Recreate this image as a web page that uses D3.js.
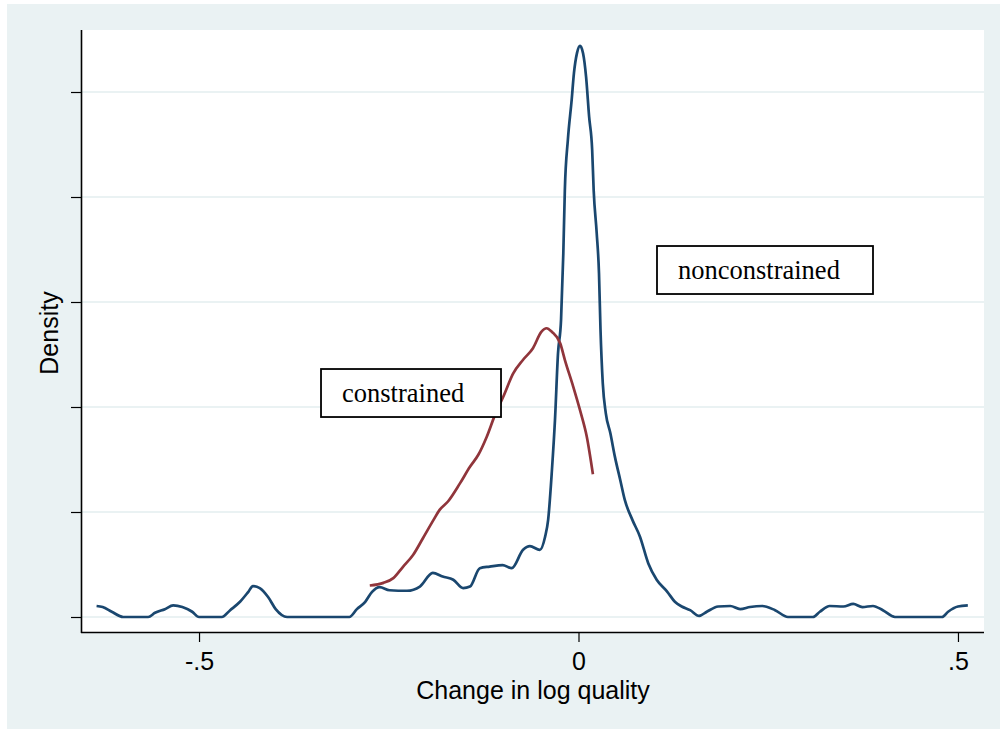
<!DOCTYPE html>
<html>
<head>
<meta charset="utf-8">
<script src="https://cdn.jsdelivr.net/npm/d3@7"></script>
<style>
html,body{margin:0;padding:0;background:#fff;}
svg{display:block;}
</style>
</head>
<body>
<svg id="chart" width="1000" height="729"></svg>
<script>
// ---- data ----
const xTicks = [-0.5, 0, 0.5];
const xTickLabels = ["-.5", "0", ".5"];
const yTicks = [0, 2, 4, 6, 8, 10];

const nonconstrainedX = [-0.635,-0.627,-0.615,-0.600,-0.567,-0.558,-0.545,-0.534,-0.522,-0.509,-0.500,-0.470,-0.459,-0.446,-0.435,-0.429,-0.420,-0.409,-0.399,-0.384,-0.302,-0.292,-0.281,-0.272,-0.262,-0.249,-0.226,-0.209,-0.192,-0.179,-0.165,-0.152,-0.143,-0.130,-0.117,-0.100,-0.088,-0.073,-0.064,-0.051,-0.044,-0.040,-0.035,-0.031,-0.027,-0.023,-0.020,-0.018,-0.014,-0.009,-0.006,-0.002,0.002,0.006,0.010,0.014,0.018,0.020,0.024,0.027,0.029,0.032,0.036,0.042,0.048,0.055,0.061,0.071,0.081,0.092,0.103,0.117,0.127,0.136,0.147,0.159,0.169,0.184,0.200,0.213,0.226,0.242,0.259,0.276,0.309,0.318,0.331,0.349,0.362,0.374,0.388,0.401,0.417,0.479,0.487,0.500,0.513];
const nonconstrainedY = [0.21,0.19,0.10,0,0,0.08,0.15,0.22,0.19,0.10,0,0,0.13,0.29,0.48,0.59,0.55,0.38,0.15,0,0,0.15,0.29,0.48,0.57,0.51,0.50,0.58,0.84,0.77,0.71,0.55,0.58,0.93,0.96,0.99,0.93,1.28,1.35,1.28,1.53,1.85,2.80,3.75,5.02,5.66,6.93,8.13,9.09,9.85,10.36,10.74,10.88,10.74,10.29,9.53,8.90,8.13,7.31,6.55,5.47,4.45,3.88,3.50,3.05,2.61,2.23,1.85,1.53,1.02,0.71,0.48,0.29,0.20,0.13,0.02,0.10,0.20,0.21,0.15,0.19,0.21,0.13,0,0,0.10,0.21,0.20,0.25,0.19,0.21,0.13,0,0,0.10,0.20,0.22];

const constrainedX = [-0.275,-0.257,-0.244,-0.231,-0.218,-0.205,-0.191,-0.183,-0.172,-0.156,-0.143,-0.132,-0.121,-0.110,-0.099,-0.086,-0.073,-0.060,-0.049,-0.042,-0.035,-0.024,-0.018,-0.007,0.002,0.011,0.019];
const constrainedY = [0.60,0.65,0.74,0.96,1.18,1.50,1.85,2.04,2.20,2.55,2.86,3.09,3.43,3.85,4.20,4.64,4.90,5.12,5.43,5.50,5.43,5.21,4.90,4.39,3.94,3.43,2.72];

const labelNames = ["constrained", "nonconstrained"];
const labelX = [-0.3116, 0.1311];
const labelY = [4.095, 6.438];

// ---- layout ----
const svg = d3.select("#chart");
const W = 1000, H = 729;
const plotL = 82, plotR = 984, plotT = 30, plotB = 632;

svg.append("rect").attr("x", 7).attr("y", 4).attr("width", W - 7).attr("height", H - 4).attr("fill", "#eaf2f3");
svg.append("rect").attr("x", plotL).attr("y", plotT).attr("width", plotR - plotL).attr("height", plotB - plotT).attr("fill", "#ffffff");

const x = d3.scaleLinear().domain([-0.6542, 0.5343]).range([plotL, plotR]);
const y = d3.scaleLinear().domain([-0.2857, 11.181]).range([plotB, plotT]);

// gridlines
svg.append("g").selectAll("line").data(yTicks).join("line")
  .attr("x1", plotL).attr("x2", plotR)
  .attr("y1", d => y(d)).attr("y2", d => y(d))
  .attr("stroke", "#eaf2f3").attr("stroke-width", 2);

// lines
const nonData = nonconstrainedX.map((v, i) => [v, nonconstrainedY[i]]);
const conData = constrainedX.map((v, i) => [v, constrainedY[i]]);
const line = d3.line().x(d => x(d[0])).y(d => y(d[1])).curve(d3.curveMonotoneX);

svg.append("path").datum(nonData).attr("d", line)
  .attr("fill", "none").attr("stroke", "#1a476f").attr("stroke-width", 2.7).attr("stroke-linejoin", "round");
svg.append("path").datum(conData).attr("d", line)
  .attr("fill", "none").attr("stroke", "#90353b").attr("stroke-width", 2.7).attr("stroke-linejoin", "round");

// axes
const yAxis = d3.axisLeft(y).tickValues(yTicks).tickFormat("").tickSize(10).tickSizeOuter(0);
const gy = svg.append("g").attr("transform", `translate(${plotL - 1},0)`).call(yAxis);
gy.select(".domain").attr("d", `M0.5,${plotT}V${plotB + 1}`).attr("stroke", "#000").attr("stroke-width", 1.6);
gy.selectAll(".tick line").attr("stroke", "#000").attr("stroke-width", 1.2);

const xAxis = d3.axisBottom(x).tickValues(xTicks).tickFormat((d, i) => xTickLabels[i]).tickSize(10).tickSizeOuter(0);
const gx = svg.append("g").attr("transform", `translate(0,${plotB})`).call(xAxis);
gx.select(".domain").attr("d", `M${plotL - 1},0.5H${plotR}`).attr("stroke", "#000").attr("stroke-width", 1.6);
gx.selectAll(".tick line").attr("stroke", "#000").attr("stroke-width", 1.2);
gx.selectAll(".tick text").attr("font-family", "Liberation Sans, Arial, sans-serif").attr("font-size", 25).attr("fill", "#000")
  .attr("y", 38).attr("dy", "0");

// axis titles
svg.append("text").attr("x", 533).attr("y", 699).attr("text-anchor", "middle")
  .attr("font-family", "Liberation Sans, Arial, sans-serif").attr("font-size", 25).attr("fill", "#000")
  .text("Change in log quality");
svg.append("text").attr("transform", "translate(58,333) rotate(-90)").attr("text-anchor", "middle")
  .attr("font-family", "Liberation Sans, Arial, sans-serif").attr("font-size", 25).attr("fill", "#000")
  .text("Density");

// annotation boxes
const boxW = [180, 216];
labelNames.forEach((name, i) => {
  const g = svg.append("g");
  const t = g.append("text").attr("x", x(labelX[i])).attr("y", y(labelY[i]))
    .attr("font-family", "Liberation Serif, Times New Roman, serif").attr("font-size", 26.5).attr("fill", "#000")
    .text(name);
  const bb = t.node().getBBox();
  g.insert("rect", "text")
    .attr("x", bb.x - 21).attr("y", bb.y - 9)
    .attr("width", boxW[i]).attr("height", bb.height + 18)
    .attr("fill", "#fff").attr("stroke", "#000").attr("stroke-width", 1.8);
});
</script>
</body>
</html>
